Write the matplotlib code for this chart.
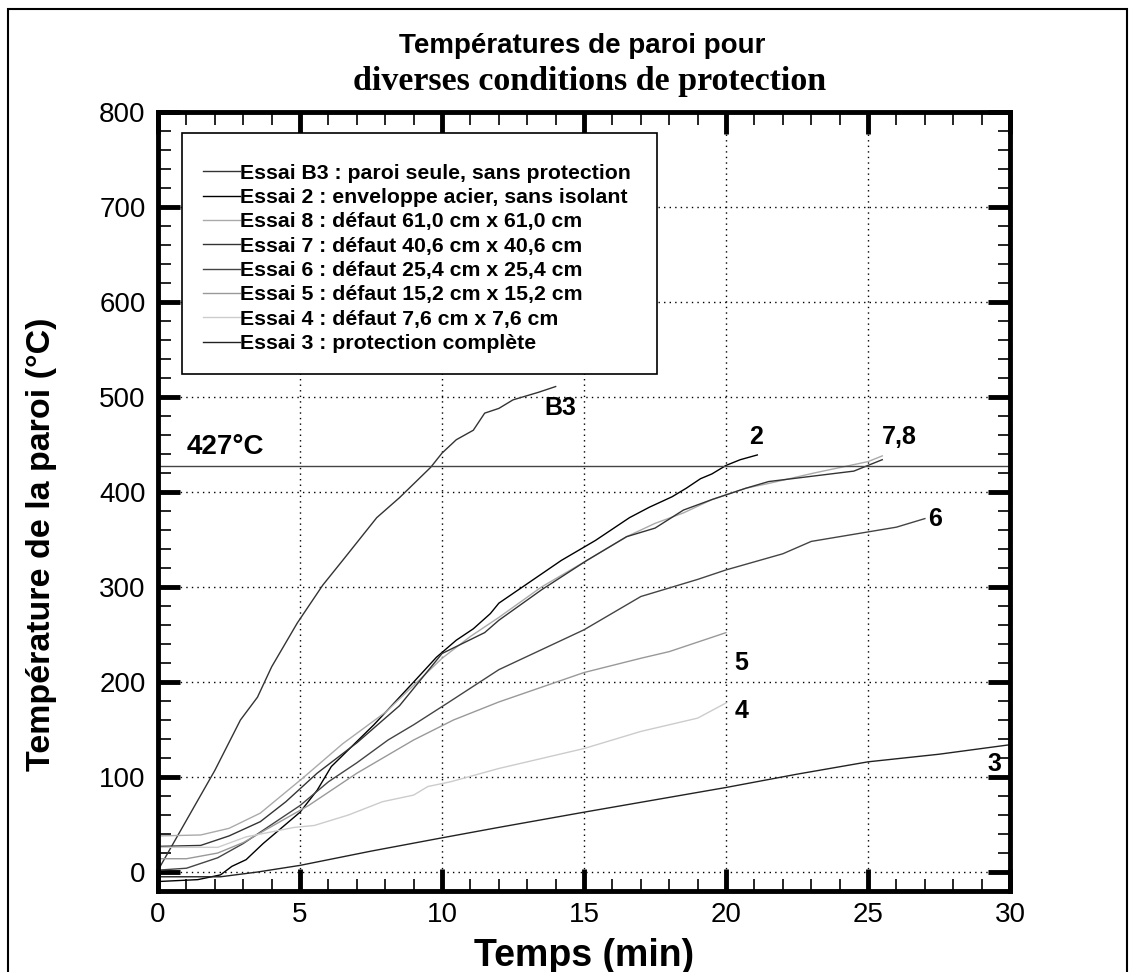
import numpy as np
import matplotlib.pyplot as plt
from matplotlib.patches import Rectangle
from matplotlib.ticker import MultipleLocator

plt.rcParams['font.family'] = ['Liberation Sans', 'DejaVu Sans']

# temps (min) / température (°C)
t_b3 = [0.0, 2.0, 2.9, 3.5, 4.0, 4.9, 5.8, 6.5, 7.7, 8.5, 9.6, 10.0, 10.5, 11.1, 11.5, 12.0, 12.5, 13.4, 14.0]
T_b3 = [2, 107, 160, 184, 216, 262, 302, 328, 373, 394, 426, 441, 455, 465, 483, 488, 497, 505, 511]

t_2 = [0.0, 1.4, 2.2, 2.6, 3.1, 3.7, 5.0, 5.6, 6.1, 7.6, 9.0, 9.8, 10.5, 11.1, 11.7, 12.0, 14.2, 15.4,
       16.6, 17.3, 18.1, 18.6, 19.1, 19.5, 20.0, 20.5, 21.1]
T_2 = [-10, -8, -3, 6, 13, 30, 63, 86, 111, 155, 200, 226, 244, 256, 272, 283, 328, 349,
       373, 384, 395, 404, 414, 419, 428, 434, 439]

t_8 = [0.0, 1.5, 2.5, 3.6, 5.1, 6.5, 8.0, 10.0, 11.0, 12.0, 13.5, 15.1, 16.5, 17.5, 18.5, 19.5, 20.7,
       21.5, 23.1, 25.0, 25.5]
T_8 = [38, 39, 46, 62, 99, 135, 168, 225, 248, 268, 300, 328, 353, 367, 378, 392, 404, 409, 420, 432, 438]

t_7 = [0.0, 1.5, 2.5, 3.6, 4.5, 5.6, 7.0, 8.5, 10.0, 11.5, 12.0, 13.5, 15.1, 16.5, 17.5, 18.5, 19.5,
       20.7, 21.5, 24.5, 25.5]
T_7 = [27, 28, 38, 53, 74, 104, 136, 175, 230, 252, 265, 297, 328, 353, 362, 381, 392, 404, 411, 422, 434]

t_6 = [0.0, 1.0, 2.1, 3.0, 4.0, 5.0, 6.0, 7.0, 8.1, 9.0, 10.2, 12.0, 15.0, 17.0, 19.0, 20.0, 22.0,
       23.0, 25.0, 26.0, 27.0]
T_6 = [2, 4, 15, 30, 50, 70, 95, 115, 139, 155, 178, 213, 255, 290, 308, 318, 335, 348, 358, 363, 372]

t_5 = [0.0, 1.0, 2.1, 3.0, 4.0, 5.3, 7.0, 9.0, 10.4, 12.0, 15.0, 17.0, 18.0, 19.0, 20.0]
T_5 = [14, 14, 20, 31, 48, 70, 104, 139, 160, 179, 210, 225, 232, 242, 252]

t_4 = [0.0, 2.1, 3.1, 4.8, 5.5, 6.7, 7.9, 9.0, 9.5, 10.3, 12.0, 15.0, 17.0, 18.0, 19.0, 20.0]
T_4 = [26, 26, 37, 47, 49, 60, 74, 81, 90, 95, 109, 130, 148, 155, 162, 178]

t_3 = [0.0, 1.0, 2.2, 3.5, 5.0, 7.5, 10.0, 12.0, 15.0, 17.5, 20.0, 22.5, 25.0, 27.5, 30.0]
T_3 = [-5, -5, -5, 0, 7, 22, 36, 47, 63, 76, 89, 103, 116, 124, 134]

series = [
    ("Essai B3 : paroi seule, sans protection", t_b3, T_b3, "#333333"),
    ("Essai 2 : enveloppe acier, sans isolant", t_2, T_2, "#000000"),
    ("Essai 8 : défaut 61,0 cm x 61,0 cm", t_8, T_8, "#aaaaaa"),
    ("Essai 7 : défaut 40,6 cm x 40,6 cm", t_7, T_7, "#333333"),
    ("Essai 6 : défaut 25,4 cm x 25,4 cm", t_6, T_6, "#444444"),
    ("Essai 5 : défaut 15,2 cm x 15,2 cm", t_5, T_5, "#999999"),
    ("Essai 4 : défaut 7,6 cm x 7,6 cm", t_4, T_4, "#cccccc"),
    ("Essai 3 : protection complète", t_3, T_3, "#222222"),
]

curve_labels = ["B3", "2", "7,8", "6", "5", "4", "3"]
label_x = [13.6, 20.8, 25.5, 27.1, 20.3, 20.3, 29.2]
label_y = [488, 458, 458, 372, 220, 170, 114]

seuil = 427

fig = plt.figure(figsize=(11.33, 9.72), dpi=100)
ax = fig.add_axes([0.1395, 0.0833, 0.752, 0.8015])

for name, t, T, c in series:
    ax.plot(t, T, color=c, lw=1.0, label=name)

ax.axhline(seuil, color="#444444", lw=1.0)
ax.text(1.0, seuil + 7, "427°C", fontsize=20, fontweight="bold", va="bottom", ha="left")

for lab, x, y in zip(curve_labels, label_x, label_y):
    ax.text(x, y, lab, fontsize=18, fontweight="bold", va="center", ha="left")

ax.set_xlim(0, 30)
ax.set_ylim(-20, 800)
ax.xaxis.set_major_locator(MultipleLocator(5))
ax.xaxis.set_minor_locator(MultipleLocator(1))
ax.yaxis.set_major_locator(MultipleLocator(100))
ax.yaxis.set_minor_locator(MultipleLocator(20))
ax.tick_params(which="both", direction="in", top=True, right=True, labelsize=20)
ax.tick_params(which="major", length=16, width=3.5)
ax.tick_params(which="minor", length=9, width=1.2)
ax.tick_params(axis="x", pad=8)
ax.tick_params(axis="y", pad=9)
for sp in ax.spines.values():
    sp.set_linewidth(3.5)
ax.grid(True, which="major", color="black", ls=(0, (1, 3)), lw=1.0)

ax.set_xlabel("Temps (min)", fontsize=27, fontweight="bold", labelpad=7)
ax.set_ylabel("Température de la paroi (°C)", fontsize=24.5, fontweight="bold")
ax.yaxis.set_label_coords(-0.1185, 0.4454)

# légende avec cadre rectangulaire
ax.add_patch(Rectangle((0.028, 0.6637), 0.5577, 0.3093, transform=ax.transAxes,
                       fill=True, facecolor="white", edgecolor="black", lw=1.2, zorder=4))
leg = ax.legend(loc="upper left", bbox_to_anchor=(0.0528, 0.9335), frameon=False,
                prop={"size": 15.3, "weight": "bold"}, handlelength=1.75,
                handletextpad=0.0, labelspacing=0.25, borderpad=0, borderaxespad=0)
leg.set_zorder(5)

fig.text(0.514, 0.953, "Températures de paroi pour", fontsize=20, fontweight="bold",
         ha="center", va="center")
fig.text(0.52, 0.916, "diverses conditions de protection", fontsize=24.5, fontweight="bold",
         family="Liberation Serif", ha="center", va="center")

# cadre de la figure
fig.add_artist(Rectangle((8 / 1133, -0.05), 1119 / 1133, 1.05 - 9 / 972, transform=fig.transFigure,
                         fill=False, edgecolor="black", lw=1.5))

fig.savefig("out.png", dpi=100)
